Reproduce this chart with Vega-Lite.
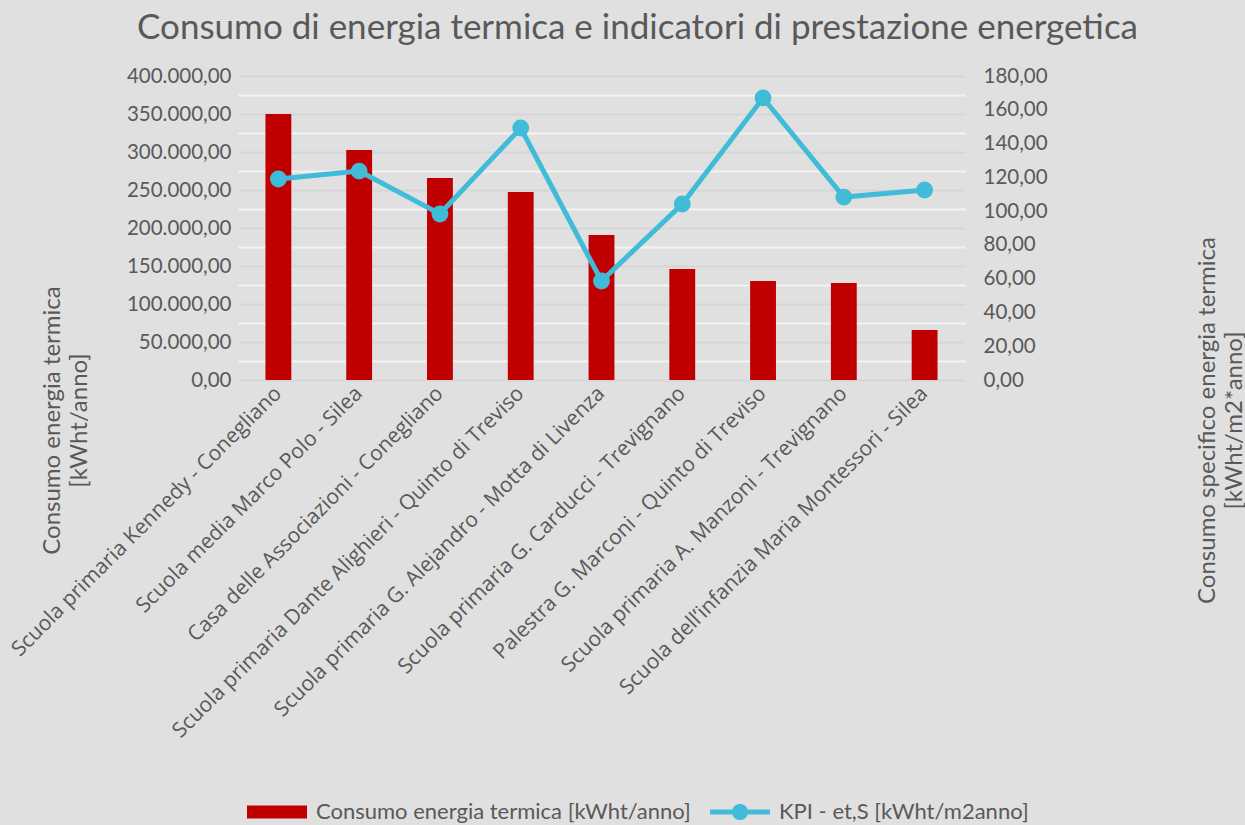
{
  "$schema": "https://vega.github.io/schema/vega-lite/v6.json",
  "autosize": "none",
  "padding": {"left": 238, "top": 76, "right": 280, "bottom": 445},
  "width": 727,
  "height": 304,
  "background": "#e0e0e0",
  "title": {
    "text": "Consumo di energia termica e indicatori di prestazione energetica",
    "anchor": "middle",
    "frame": "group",
    "dx": 36,
    "offset": 20,
    "font": "Lato",
    "fontSize": 35,
    "fontWeight": "normal",
    "color": "#595959"
  },
  "data": {
    "values": [
      {"edificio": "Scuola primaria Kennedy - Conegliano", "consumo": 350000, "kpi": 119.0},
      {"edificio": "Scuola media Marco Polo - Silea", "consumo": 302600, "kpi": 123.7},
      {"edificio": "Casa delle Associazioni - Conegliano", "consumo": 265800, "kpi": 98.3},
      {"edificio": "Scuola primaria Dante Alighieri - Quinto di Treviso", "consumo": 247400, "kpi": 149.2},
      {"edificio": "Scuola primaria G. Alejandro - Motta di Livenza", "consumo": 190800, "kpi": 58.6},
      {"edificio": "Scuola primaria G. Carducci - Trevignano", "consumo": 146000, "kpi": 104.2},
      {"edificio": "Palestra G. Marconi - Quinto di Treviso", "consumo": 130300, "kpi": 167.0},
      {"edificio": "Scuola primaria A. Manzoni - Trevignano", "consumo": 127600, "kpi": 108.3},
      {"edificio": "Scuola dell’infanzia Maria Montessori - Silea", "consumo": 65800, "kpi": 112.5}
    ]
  },
  "encoding": {
    "x": {
      "field": "edificio",
      "type": "nominal",
      "sort": null,
      "scale": {"paddingInner": 0, "paddingOuter": 0},
      "axis": {
        "title": null,
        "labelAngle": -45,
        "labelAlign": "right",
        "labelBaseline": "middle",
        "labelFont": "Open Sans",
        "labelFontSize": 21,
        "labelColor": "#595959",
        "labelPadding": 10,
        "labelLimit": 1000,
        "ticks": false,
        "domain": false,
        "grid": false
      }
    }
  },
  "layer": [
    {
      "mark": {"type": "bar", "width": {"band": 0.32}},
      "encoding": {
        "y": {
          "field": "consumo",
          "type": "quantitative",
          "scale": {"domain": [0, 400000], "nice": false},
          "axis": {
            "values": [0, 25000, 50000, 75000, 100000, 125000, 150000, 175000, 200000, 225000, 250000, 275000, 300000, 325000, 350000, 375000, 400000],
            "format": ",.2f",
            "labelExpr": "datum.value % 50000 === 0 ? datum.label : ''",
            "labelOverlap": false,
            "grid": true,
            "gridColor": {"condition": {"test": "datum.value % 50000 === 0", "value": "#d6d6d6"}, "value": "#f3f3f3"},
            "gridWidth": 2,
            "ticks": false,
            "domain": false,
            "labelFont": "Lato",
            "labelFontSize": 20.5,
            "labelColor": "#595959",
            "labelPadding": 7,
            "title": ["Consumo energia termica", "[kWht/anno]"],
            "titleX": -198,
            "titleY": 344,
            "titleAngle": -90,
            "titleAlign": "center",
            "titleBaseline": "top",
            "titleFont": "Lato",
            "titleFontSize": 24,
            "titleFontWeight": "normal",
            "titleColor": "#595959",
            "titleLineHeight": 27
          }
        },
        "fill": {
          "datum": "Consumo energia termica [kWht/anno]",
          "scale": {"range": ["#c00000"]},
          "legend": {
            "orient": "none",
            "legendX": 9,
            "legendY": 706,
            "direction": "horizontal",
            "title": null,
            "symbolType": "M-1,-0.22H1V0.22H-1Z",
            "symbolSize": 3600,
            "symbolStrokeWidth": 0,
            "labelOffset": 9,
            "labelFont": "Lato",
            "labelFontSize": 22,
            "labelColor": "#595959",
            "labelLimit": 1000
          }
        }
      }
    },
    {
      "mark": {
        "type": "line",
        "strokeWidth": 5,
        "point": {"filled": true, "size": 220, "color": "#40bcd8"}
      },
      "encoding": {
        "y": {
          "field": "kpi",
          "type": "quantitative",
          "scale": {"domain": [0, 180], "nice": false},
          "axis": {
            "orient": "right",
            "values": [0, 20, 40, 60, 80, 100, 120, 140, 160, 180],
            "format": ".2f",
            "grid": false,
            "ticks": false,
            "domain": false,
            "labelOverlap": false,
            "labelFont": "Lato",
            "labelFontSize": 20.5,
            "labelColor": "#595959",
            "labelPadding": 18,
            "title": ["Consumo specifico energia termica", "[kWht/m2*anno]"],
            "titleX": 230,
            "titleY": 344,
            "titleAngle": -90,
            "titleAlign": "center",
            "titleBaseline": "top",
            "titleFont": "Lato",
            "titleFontSize": 24,
            "titleFontWeight": "normal",
            "titleColor": "#595959",
            "titleLineHeight": 27
          }
        },
        "stroke": {
          "datum": "KPI - et,S [kWht/m2anno]",
          "scale": {"range": ["#40bcd8"]},
          "legend": {
            "orient": "none",
            "legendX": 472,
            "legendY": 706,
            "direction": "horizontal",
            "title": null,
            "symbolType": "M-1,-0.083H-0.257A0.27,0.27 0 0,1 0.257,-0.083H1V0.083H0.257A0.27,0.27 0 0,1 -0.257,0.083H-1Z",
            "symbolSize": 3600,
            "labelOffset": 9,
            "labelFont": "Lato",
            "labelFontSize": 22,
            "labelColor": "#595959",
            "labelLimit": 1000,
            "encode": {"symbols": {"update": {"fill": {"value": "#40bcd8"}, "strokeWidth": {"value": 0}, "opacity": {"value": 1}}}}
          }
        }
      }
    }
  ],
  "resolve": {"scale": {"y": "independent"}, "axis": {"y": "independent"}},
  "config": {
    "view": {"stroke": null},
    "locale": {"number": {"decimal": ",", "thousands": ".", "grouping": [3], "currency": ["€", ""]}}
  }
}
